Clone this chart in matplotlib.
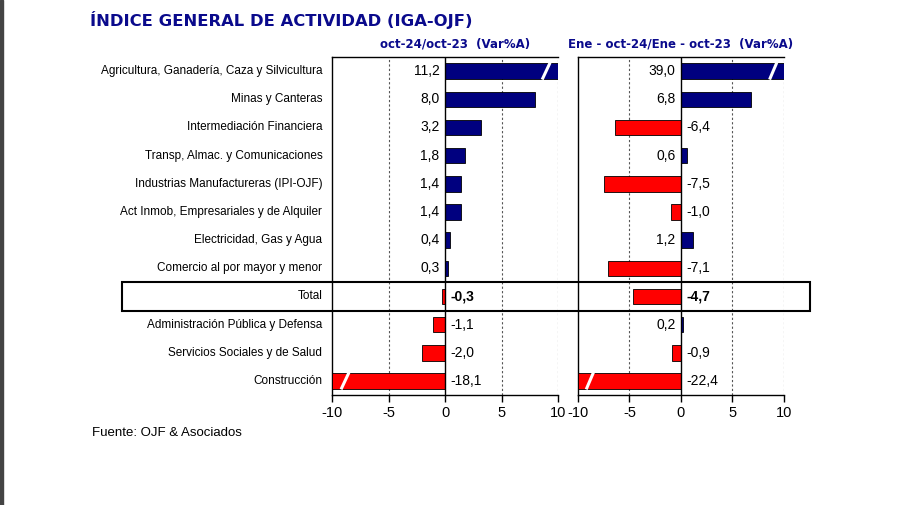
import numpy as np
import matplotlib
matplotlib.use('Agg')
import matplotlib.pyplot as plt
from matplotlib.patches import Rectangle
from matplotlib.transforms import blended_transform_factory

categories = ["Agricultura, Ganadería, Caza y Silvicultura", "Minas y Canteras",
	"Intermediación Financiera", "Transp, Almac. y Comunicaciones",
	"Industrias Manufactureras (IPI-OJF)", "Act Inmob, Empresariales y de Alquiler",
	"Electricidad, Gas y Agua", "Comercio al por mayor y menor", "Total",
	"Administración Pública y Defensa", "Servicios Sociales y de Salud", "Construcción"]
mensual = [11.2, 8.0, 3.2, 1.8, 1.4, 1.4, 0.4, 0.3, -0.3, -1.1, -2.0, -18.1]
acumulado = [39.0, 6.8, -6.4, 0.6, -7.5, -1.0, 1.2, -7.1, -4.7, 0.2, -0.9, -22.4]
ticks = [-10, -5, 0, 5, 10]
titles = ["oct-24/oct-23  (Var%A)", "Ene - oct-24/Ene - oct-23  (Var%A)"]

NAVY = "#00007f"
RED = "#ff0000"
TITLE_C = "#0a0a8c"
plt.rcParams['font.family'] = ['Liberation Sans', 'DejaVu Sans']

fig = plt.figure(figsize=(9, 5.05), dpi=100)
ax1 = fig.add_axes([0.3689, 0.2178, 0.2511, 0.6693])
ax2 = fig.add_axes([0.6422, 0.2178, 0.2289, 0.6693])
y = np.arange(len(categories))
itotal = categories.index("Total")

def panel(ax, vals, title, tx):
	clipped = np.clip(vals, -10, 10)
	colors = [NAVY if v >= 0 else RED for v in vals]
	ax.barh(y, clipped, height=0.55, color=colors, edgecolor="black", linewidth=0.6, zorder=3)
	ax.set_xlim(-10, 10)
	ax.set_ylim(len(categories) - 0.5, -0.5)
	for g in [-5, 5, 10]:
		ax.axvline(g, color="#555555", linestyle=(0, (2, 2)), linewidth=0.8, zorder=1)
	ax.axvline(0, color="black", linewidth=1.0, zorder=4)
	ax.spines['right'].set_visible(False)
	for s in ['left', 'top', 'bottom']:
		ax.spines[s].set_linewidth(1.0)
	ax.set_xticks(ticks)
	ax.set_xticklabels([str(t) for t in ticks], fontsize=10.5)
	ax.tick_params(axis='x', direction='out', length=5, width=1, pad=3)
	ax.set_yticks([])
	# break marks on bars past the axis limit
	for i, v in enumerate(vals):
		if abs(v) > 10:
			x0 = 8.6 if v > 0 else -9.2
			ax.plot([x0, x0 + 0.7], [i + 0.3, i - 0.3], color="white", linewidth=2.2, zorder=5,
				solid_capstyle='butt')
	# value labels
	for i, v in enumerate(vals):
		txt = f"{v:.1f}".replace(".", ",")
		w = 'bold' if i == itotal else 'normal'
		if v >= 0:
			ax.annotate(txt, (0, i), xytext=(-4, 0), textcoords='offset points',
				ha='right', va='center', fontsize=10, fontweight=w, zorder=6)
		else:
			ax.annotate(txt, (0, i), xytext=(4, 0), textcoords='offset points',
				ha='left', va='center', fontsize=10, fontweight=w, zorder=6)
	ax.text(tx, 1.0, title, transform=ax.transAxes, fontsize=8.5, fontweight='bold',
		color=TITLE_C, family='DejaVu Sans', ha='center', va='bottom')
	ax.texts[-1].set_y(1.018)

panel(ax1, mensual, titles[0], 0.545)
panel(ax2, acumulado, titles[1], 0.5)

for i, c in enumerate(categories):
	ax1.annotate(c, (0, i), xycoords=('axes fraction', 'data'), xytext=(-7, 0),
		textcoords='offset points', ha='right', va='center', fontsize=8.5)

# box around Total row
tr = blended_transform_factory(fig.transFigure, ax1.transData)
box = Rectangle((122 / 900, itotal - 0.53), (810 - 122) / 900, 1.06, transform=tr,
	fill=False, edgecolor="black", linewidth=1.5, clip_on=False, zorder=10)
fig.add_artist(box)

fig.text(90 / 900, 1 - 20 / 505, "ÍNDICE GENERAL DE ACTIVIDAD (IGA-OJF)", fontsize=11.8,
	fontweight='bold', color=TITLE_C, family='DejaVu Sans', va='center', ha='left')
fig.text(92 / 900, 1 - 433 / 505, "Fuente: OJF & Asociados", fontsize=9.5, va='center', ha='left')

# dark page edge on the left
fig.add_artist(Rectangle((0, 0), 3 / 900, 1, transform=fig.transFigure, color="#444444"))

fig.savefig("out.png", dpi=100)
